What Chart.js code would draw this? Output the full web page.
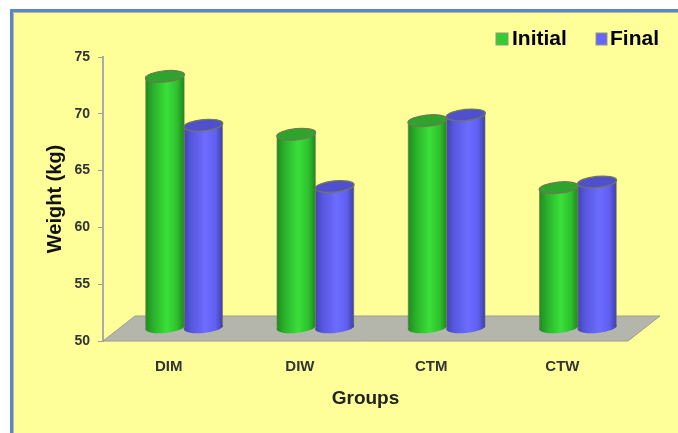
<!DOCTYPE html>
<html>
<head>
<meta charset="utf-8">
<title>Weight by group</title>
<script src="https://cdn.jsdelivr.net/npm/chart.js@4"></script>
<style>
    html, body { margin: 0; padding: 0; background: #fff; overflow: hidden; }
    #frame {
        position: absolute; left: 10px; top: 9px; right: 0; bottom: 0;
        background: #ffff99;
        border-left: 3px solid #5b86c4;
        border-top: 3px solid #5b86c4;
        box-shadow: inset 1px 1px 0 #b9b9a0;
    }
    #weightChart { position: absolute; left: 0; top: 0; }
</style>
</head>
<body>
<div id="frame"></div>
<canvas id="weightChart" width="678" height="433"></canvas>
<script>
const groups = ["DIM", "DIW", "CTM", "CTW"];
const initialWeight = [73.3, 68.2, 69.4, 63.5];
const finalWeight = [69.0, 63.6, 69.9, 64.0];
const weightTicks = [50, 55, 60, 65, 70, 75];

const groupWidth = 0.585;
const floorLevel = 51.2;   // cylinders stand in the middle of the floor
const depthX = 32, depthY = 25;
const barShift = 15.5;
const capRy = 5.6, capTilt = -0.1;
const rimColor = "#6f7a50";

const green = { stops: ["#1f8c1f", "#2aae2a", "#39e039", "#2fbf2f", "#1e881e"], cap: "#2ea32e", solid: "#33cc33" };
const blue = { stops: ["#4444b4", "#5656de", "#6c6cff", "#5f5ff0", "#4040a8"], cap: "#5050cf", solid: "#6666ff" };

function sideGradient(ctx, x0, x1, colors) {
    const g = ctx.createLinearGradient(x0, 0, x1, 0);
    [0, 0.18, 0.55, 0.82, 1].forEach((p, i) => g.addColorStop(p, colors[i]));
    return g;
}

function barFill(colors) {
    return function (context) {
        const scale = context.chart.scales.x;
        if (!scale.width) return "#888";
        const w = scale.width / groups.length * groupWidth / 2;
        const c = scale.getPixelForValue(context.dataIndex);
        const x0 = context.datasetIndex === 0 ? c - w : c;
        return sideGradient(context.chart.ctx, x0, x0 + w, colors);
    };
}

function drawEllipse(ctx, x, y, rx, fill, stroke) {
    ctx.beginPath();
    ctx.ellipse(x, y, rx, capRy, capTilt, 0, Math.PI * 2);
    ctx.fillStyle = fill;
    ctx.fill();
    if (stroke) {
        ctx.strokeStyle = stroke;
        ctx.lineWidth = 1.2;
        ctx.stroke();
    }
}

const cylinders = {
    id: "cylinders",
    beforeDatasetsDraw(chart) {
        const { ctx, chartArea: a } = chart;
        // floor
        ctx.save();
        ctx.beginPath();
        ctx.moveTo(a.left, a.bottom);
        ctx.lineTo(a.right, a.bottom);
        ctx.lineTo(a.right + depthX, a.bottom - depthY);
        ctx.lineTo(a.left + depthX, a.bottom - depthY);
        ctx.closePath();
        ctx.fillStyle = "#b4b5ab";
        ctx.fill();
        ctx.strokeStyle = "#9c9c94";
        ctx.lineWidth = 1;
        ctx.stroke();
        ctx.restore();
        ctx.save();
        ctx.translate(barShift, 0);
    },
    afterDatasetsDraw(chart) {
        const { ctx } = chart;
        chart.data.datasets.forEach((ds, d) => {
            const colors = d === 0 ? green : blue;
            chart.getDatasetMeta(d).data.forEach(el => {
                const x0 = el.x - el.width / 2;
                const rx = el.width / 2 + 0.4;
                drawEllipse(ctx, el.x, el.base, rx, sideGradient(ctx, x0, x0 + el.width, colors.stops));
                // thin rim down both sides of the cylinder
                ctx.strokeStyle = rimColor;
                ctx.globalAlpha = 0.6;
                ctx.lineWidth = 1;
                ctx.beginPath();
                ctx.moveTo(x0, el.y + 2);
                ctx.lineTo(x0, el.base + 2);
                ctx.moveTo(x0 + el.width, el.y - 2);
                ctx.lineTo(x0 + el.width, el.base - 2);
                ctx.stroke();
                ctx.globalAlpha = 1;
                drawEllipse(ctx, el.x, el.y, rx, colors.cap, rimColor);
            });
        });
        ctx.restore();
    },
    afterDraw(chart) {
        // legend: swatch and label for each series
        const { ctx } = chart;
        const spots = [{ box: 496, w: 12, text: 512 }, { box: 596, w: 11, text: 610 }];
        ctx.save();
        ctx.font = "bold 21px 'Liberation Sans', Arial, sans-serif";
        ctx.textBaseline = "middle";
        chart.data.datasets.forEach((ds, d) => {
            const s = spots[d];
            ctx.fillStyle = d === 0 ? green.solid : blue.solid;
            ctx.strokeStyle = "#8f9a78";
            ctx.lineWidth = 1;
            ctx.fillRect(s.box, 33, s.w, 12);
            ctx.strokeRect(s.box, 33, s.w, 12);
            ctx.fillStyle = "#000";
            ctx.fillText(ds.label, s.text, 39);
        });
        ctx.restore();
    }
};

new Chart(document.getElementById("weightChart").getContext("2d"), {
    type: "bar",
    data: {
        labels: groups,
        datasets: [
            { label: "Initial", data: initialWeight, base: floorLevel, backgroundColor: barFill(green.stops) },
            { label: "Final", data: finalWeight, base: floorLevel, backgroundColor: barFill(blue.stops) }
        ]
    },
    options: {
        responsive: false,
        animation: false,
        categoryPercentage: groupWidth,
        barPercentage: 1,
        layout: { padding: { left: 43, right: 50, top: 57, bottom: 23 } },
        plugins: { legend: { display: false }, tooltip: { enabled: false } },
        scales: {
            x: {
                afterFit(s) { s.height = 69; },
                grid: { display: false },
                border: { display: false },
                ticks: { padding: 9, color: "#333", font: { family: "'Liberation Sans'", size: 15, weight: "bold" } },
                title: { display: true, text: "Groups", color: "#222", padding: 0, font: { family: "'Liberation Sans'", size: 19, weight: "bold" } }
            },
            y: {
                min: 50,
                max: 75,
                afterFit(s) { s.width = 60; },
                afterBuildTicks(s) { s.ticks = weightTicks.map(value => ({ value })); },
                grid: { drawOnChartArea: false, tickLength: 5, color: "#9a9a9a" },
                border: { color: "#aaaaaa", width: 2 },
                ticks: { padding: 8, color: "#333", font: { family: "'Liberation Sans'", size: 14, weight: "bold" } },
                title: { display: true, text: "Weight (kg)", color: "#111", padding: 0, font: { family: "'Liberation Sans'", size: 20, weight: "bold" } }
            }
        }
    },
    plugins: [cylinders]
});
</script>
</body>
</html>
